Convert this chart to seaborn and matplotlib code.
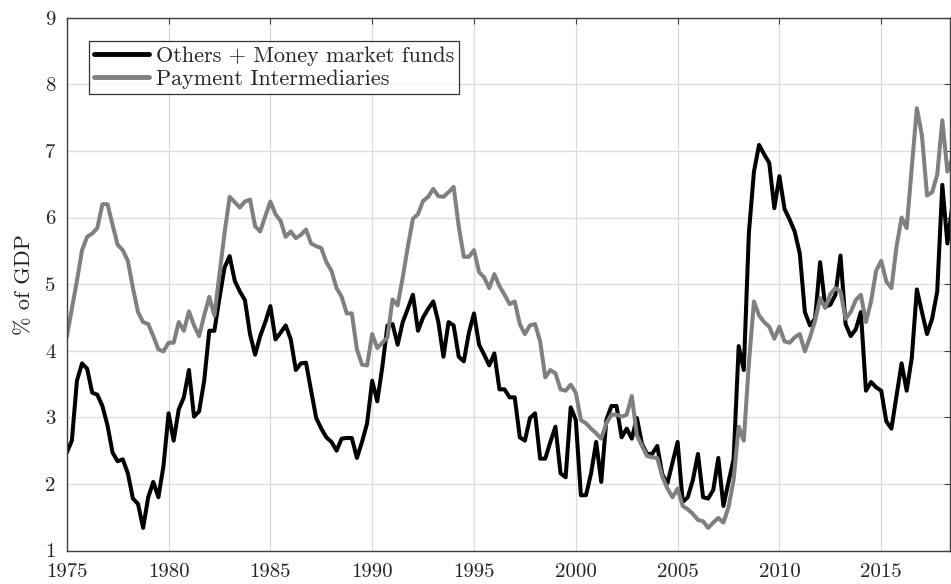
import numpy as np
import pandas as pd
import matplotlib
matplotlib.use("Agg")
import matplotlib.pyplot as plt
import seaborn as sns

# quarterly data, 1975Q1 onwards
start_year = 1975
others_mmf = [
    2.47, 2.65, 3.55, 3.81,  3.73, 3.37, 3.34, 3.17,  2.88, 2.47, 2.34, 2.37,
    2.16, 1.78, 1.70, 1.34,  1.80, 2.03, 1.80, 2.27,  3.06, 2.65, 3.12, 3.30,
    3.71, 3.01, 3.09, 3.55,  4.30, 4.30, 4.79, 5.25,  5.42, 5.05, 4.89, 4.76,
    4.25, 3.94, 4.22, 4.43,  4.67, 4.17, 4.27, 4.38,  4.17, 3.71, 3.81, 3.82,
    3.40, 2.99, 2.83, 2.70,  2.63, 2.50, 2.68, 2.69,  2.69, 2.39, 2.63, 2.91,
    3.55, 3.24, 3.76, 4.38,  4.40, 4.09, 4.43, 4.63,  4.84, 4.30, 4.50, 4.63,
    4.74, 4.43, 3.91, 4.43,  4.38, 3.91, 3.84, 4.27,  4.56, 4.09, 3.94, 3.78,
    3.96, 3.42, 3.42, 3.30,  3.30, 2.70, 2.65, 2.99,  3.06, 2.38, 2.38, 2.63,
    2.86, 2.16, 2.10, 3.15,  2.96, 1.83, 1.83, 2.16,  2.63, 2.03, 2.96, 3.17,
    3.17, 2.70, 2.83, 2.68,  2.99, 2.60, 2.45, 2.45,  2.57, 2.14, 2.01, 2.32,
    2.63, 1.73, 1.80, 2.06,  2.45, 1.80, 1.78, 1.91,  2.39, 1.67, 2.03, 2.37,
    4.07, 3.71, 5.77, 6.69,  7.09, 6.95, 6.82, 6.14,  6.62, 6.13, 5.97, 5.79,
    5.46, 4.58, 4.38, 4.48,  5.33, 4.66, 4.69, 4.84,  5.43, 4.40, 4.22, 4.32,
    4.58, 3.40, 3.53, 3.45,  3.40, 2.94, 2.83, 3.32,  3.81, 3.40, 3.89, 4.92,
    4.58, 4.25, 4.48, 4.89,  6.49, 5.61, 6.20,
]
payment_interm = [
    4.20, 4.63, 5.05, 5.51,  5.71, 5.76, 5.84, 6.20,  6.20, 5.89, 5.59, 5.51,
    5.35, 4.94, 4.58, 4.43,  4.40, 4.22, 4.02, 3.99,  4.12, 4.12, 4.43, 4.30,
    4.59, 4.38, 4.22, 4.53,  4.81, 4.53, 5.15, 5.77,  6.31, 6.23, 6.15, 6.24,
    6.27, 5.87, 5.79, 6.02,  6.24, 6.05, 5.95, 5.71,  5.79, 5.69, 5.74, 5.82,
    5.61, 5.57, 5.54, 5.33,  5.20, 4.94, 4.81, 4.56,  4.56, 4.02, 3.79, 3.78,
    4.25, 4.04, 4.12, 4.20,  4.77, 4.68, 5.10, 5.56,  5.98, 6.05, 6.25, 6.31,
    6.43, 6.32, 6.31, 6.38,  6.46, 5.87, 5.41, 5.41,  5.51, 5.18, 5.10, 4.94,
    5.15, 4.97, 4.84, 4.70,  4.74, 4.40, 4.25, 4.38,  4.40, 4.14, 3.60, 3.71,
    3.66, 3.42, 3.40, 3.49,  3.37, 2.96, 2.91, 2.83,  2.76, 2.68, 2.91, 3.04,
    3.04, 3.01, 3.04, 3.32,  2.73, 2.57, 2.42, 2.40,  2.39, 2.11, 1.93, 1.80,
    1.93, 1.67, 1.62, 1.55,  1.46, 1.44, 1.34, 1.42,  1.49, 1.42, 1.65, 2.06,
    2.86, 2.65, 3.81, 4.74,  4.53, 4.43, 4.36, 4.18,  4.36, 4.14, 4.12, 4.20,
    4.25, 3.99, 4.20, 4.45,  4.79, 4.64, 4.85, 4.94,  4.89, 4.48, 4.58, 4.76,
    4.84, 4.43, 4.74, 5.20,  5.35, 5.04, 4.94, 5.56,  6.00, 5.84, 6.75, 7.64,
    7.23, 6.33, 6.38, 6.64,  7.46, 6.69, 6.90,
]
series_names = ["Others + Money market funds", "Payment Intermediaries"]
series_colors = ["#000000", "#808080"]
x_ticks = [1975, 1980, 1985, 1990, 1995, 2000, 2005, 2010, 2015]
y_ticks = [1, 2, 3, 4, 5, 6, 7, 8, 9]

years = start_year + 0.25 * np.arange(len(others_mmf))
df = pd.concat([
    pd.DataFrame({"year": years, "value": others_mmf, "series": series_names[0]}),
    pd.DataFrame({"year": years, "value": payment_interm, "series": series_names[1]}),
], ignore_index=True)

sns.set_style("white")
plt.rcParams["font.family"] = ["cmr10", "DejaVu Serif"]
plt.rcParams["mathtext.fontset"] = "cm"
plt.rcParams["axes.formatter.use_mathtext"] = True
plt.rcParams["axes.unicode_minus"] = False

fig = plt.figure(figsize=(9.51, 5.84), dpi=100)
ax = fig.add_axes([0.0702, 0.0573, 0.9288, 0.9124])

sns.lineplot(data=df, x="year", y="value", hue="series",
             palette=dict(zip(series_names, series_colors)),
             linewidth=2.9, ax=ax, legend=True)

ax.set_xlim(1975, 2018.38)
ax.set_ylim(1, 9)
ax.set_xticks(x_ticks)
ax.set_yticks(y_ticks)
ax.set_xticklabels([str(t) for t in x_ticks])
ax.set_yticklabels([str(t) for t in y_ticks])
ax.set_xlabel("")
ax.set_ylabel("% of GDP", fontsize=16, labelpad=8)

ax.grid(True, color="#dcdcdc", linewidth=0.9)
ax.set_axisbelow(True)
for s in ax.spines.values():
    s.set_color("#404040")
    s.set_linewidth(1.0)
ax.tick_params(direction="in", top=True, right=True, length=4.5, width=0.8,
               color="#404040", labelsize=15)
ax.tick_params(axis="x", pad=9)
ax.tick_params(axis="y", pad=8)

leg = ax.legend(loc="upper left", bbox_to_anchor=(0.025, 0.957),
                borderaxespad=0, frameon=True, fancybox=False,
                edgecolor="black", fontsize=16, handlelength=2.45,
                handletextpad=0.3, borderpad=0.25, labelspacing=0.15)
leg.get_frame().set_linewidth(0.9)
for line in leg.get_lines():
    line.set_linewidth(3.5)

fig.savefig("out.png", dpi=100)
